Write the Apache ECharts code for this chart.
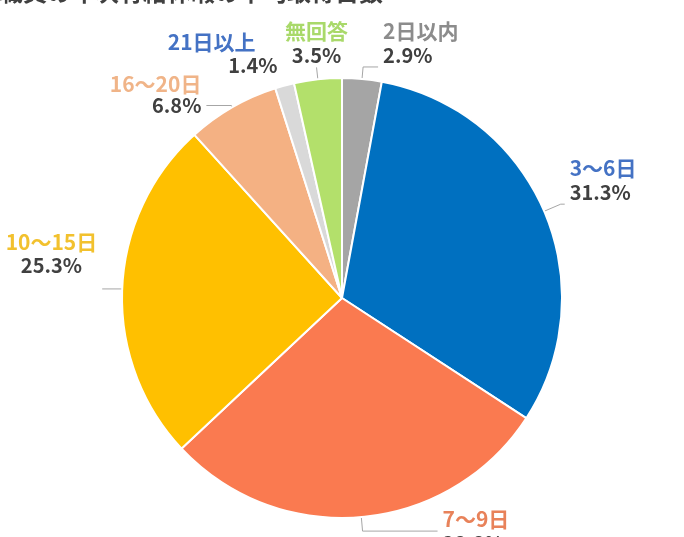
<!DOCTYPE html>
<html>
<head>
<meta charset="utf-8">
<script src="https://cdn.jsdelivr.net/npm/echarts@6/dist/echarts.min.js"></script>
<style>
    html, body {
        margin: 0;
        padding: 0;
        background: #fff;
    }
    #main {
        width: 684px;
        height: 537px;
    }
</style>
</head>
<body>
<div id="main"></div>
<script type="text/javascript">
    // 取得日数の区分と割合(%)
    var categories = ['2日以内', '3～6日', '7～9日', '10～15日', '16～20日', '21日以上', '無回答'];
    var values = [2.9, 31.3, 28.8, 25.3, 6.8, 1.4, 3.5];

    var sliceColors = ['#A5A5A5', '#0070C0', '#FA7A50', '#FFC000', '#F4B183', '#D9D9D9', '#B3E06B'];
    var nameColors = ['#8C8C8C', '#4472C4', '#E8825A', '#F2C12E', '#F0B488', '#4472C4', '#A9D96A'];

    // ラベル線の長さと文字の揃え
    var lineLen = [12, 18, 14, 2, 2, 8, 12];
    var lineLen2 = [15, 4, 75, 18, 25, 0, 0];
    var aligns = ['left', 'left', 'left', 'right', 'right', 'right', 'center'];
    var vAligns = ['bottom', 'bottom', 'middle', 'bottom', 'bottom', 'bottom', 'bottom'];
    var shiftY = [0, 0, 0, 0, 10, 0, 0];

    var font = '"Noto Sans CJK JP", "Noto Sans", sans-serif';

    var rich = {};
    for (var i = 0; i < categories.length; i++) {
        rich['n' + i] = { color: nameColors[i], fontSize: 21, fontWeight: 'bold', fontFamily: font, lineHeight: 24 };
        rich['v' + i] = { color: '#404040', fontSize: 20, fontWeight: 'bold', fontFamily: font, lineHeight: 24 };
    }
    rich.n3.align = 'center';
    rich.n3.lineHeight = 26;
    rich.v3.align = 'center';
    rich.v3.lineHeight = 34;
    rich.v3.verticalAlign = 'top';
    rich.n4.lineHeight = 21;
    rich.v4.lineHeight = 21;
    rich.n5.padding = [0, 22, 0, 0];
    rich.v5.align = 'right';

    var pieData = categories.map(function (c, i) {
        return {
            name: c,
            value: values[i],
            itemStyle: { color: sliceColors[i] },
            label: i === 6 ? { distanceToLabelLine: 0 } : {},
            labelLine: { length: lineLen[i], length2: lineLen2[i], show: i !== 5 }
        };
    });

    var myChart = echarts.init(document.getElementById('main'));

    option = {
        backgroundColor: '#fff',
        animation: false,
        title: {
            text: '教職員の年次有給休暇の平均取得日数',
            left: -25,
            top: -20,
            padding: 0,
            textStyle: {
                color: '#404040',
                fontSize: 24,
                fontWeight: 'bold',
                fontFamily: font
            }
        },
        series: [{
            type: 'pie',
            center: [342, 298],
            radius: 220,
            startAngle: 90,
            clockwise: true,
            avoidLabelOverlap: false,
            itemStyle: {
                borderColor: '#fff',
                borderWidth: 2
            },
            label: {
                show: true,
                position: 'outside',
                formatter: function (p) {
                    return '{n' + p.dataIndex + '|' + p.name + '}\n{v' + p.dataIndex + '|' + p.value.toFixed(1) + '%}';
                },
                rich: rich
            },
            labelLine: {
                show: true,
                smooth: false,
                lineStyle: { color: '#A6A6A6', width: 1 }
            },
            labelLayout: function (p) {
                var o = { align: aligns[p.dataIndex], verticalAlign: vAligns[p.dataIndex] };
                if (shiftY[p.dataIndex]) {
                    o.dy = shiftY[p.dataIndex];
                }
                return o;
            },
            emphasis: { disabled: true },
            data: pieData
        }]
    };

    myChart.setOption(option);
</script>
</body>
</html>
